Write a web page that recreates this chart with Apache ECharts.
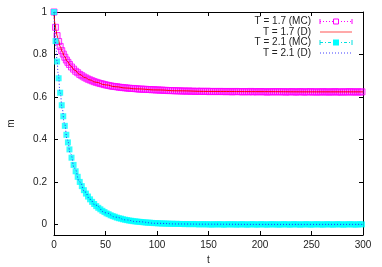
<!DOCTYPE html>
<html><head><meta charset="utf-8">
<script src="https://cdn.jsdelivr.net/npm/echarts@6/dist/echarts.min.js"></script>
<style>html,body{margin:0;padding:0;background:#fff}#c{width:382px;height:267px}</style>
</head><body><div id="c"></div>
<script>
// Monte Carlo sample times
const tMC = [0,1.5,3,4.5,6,7.5,9,10.5,12,13.5,15,17,19,21,23,25,27,29,31,33,35,37,39,41,43,45,47,49,51,53,55,57,59,
61,63,65,67,69,71,73,75,77,79,81,83,85,87,89,91,93,95,97,99,
101,103,105,107,109,111,113,115,117,119,121,123,125,127,129,131,133,135,137,139,
141,143,145,147,149,151,153,155,157,159,161,163,165,167,169,171,173,175,177,179,
181,183,185,187,189,191,193,195,197,199,201,203,205,207,209,211,213,215,217,219,
221,223,225,227,229,231,233,235,237,239,241,243,245,247,249,251,253,255,257,259,
261,263,265,267,269,271,273,275,277,279,281,283,285,287,289,291,293,295,297,299];
// T = 1.7 (MC)
const mMC17 = [1,0.928,0.889,0.861,0.838,0.818,0.802,0.787,0.774,0.763,0.753,
0.741,0.731,0.721,0.714,0.706,0.700,0.694,0.689,0.684,0.680,0.676,0.672,0.669,0.666,0.663,0.661,0.658,0.656,0.654,0.652,0.650,0.649,
0.648,0.646,0.645,0.644,0.643,0.642,0.641,0.640,0.640,0.639,0.638,0.637,0.637,0.636,0.636,0.635,0.635,0.634,0.634,0.633,
0.633,0.632,0.632,0.631,0.631,0.630,0.630,0.630,0.629,0.629,0.629,0.628,0.628,0.628,0.627,0.628,0.627,0.627,0.626,0.627,
0.626,0.627,0.626,0.626,0.627,0.625,0.626,0.626,0.625,0.626,0.626,0.625,0.626,0.625,0.625,0.626,0.624,0.625,0.626,0.625,
0.625,0.624,0.625,0.625,0.624,0.626,0.624,0.625,0.624,0.625,0.625,0.624,0.625,0.623,0.624,0.625,0.624,0.624,0.625,0.624,
0.624,0.625,0.623,0.624,0.624,0.625,0.624,0.623,0.624,0.625,0.624,0.623,0.624,0.624,0.625,0.623,0.624,0.624,0.623,0.624,
0.625,0.623,0.624,0.624,0.623,0.624,0.625,0.623,0.624,0.623,0.624,0.624,0.623,0.625,0.624,0.623,0.624,0.624,0.623,0.624];
// T = 2.1 (MC)
const mMC21 = [1,0.863,0.767,0.688,0.620,0.561,0.509,0.464,0.422,0.386,0.353,
0.314,0.280,0.250,0.224,0.200,0.180,0.161,0.145,0.131,0.118,0.106,0.096,0.086,0.078,0.071,0.064,0.058,0.052,0.048,0.043,0.039,0.036,
0.032,0.029,0.027,0.024,0.022,0.020,0.018,0.017,0.015,0.014,0.013,0.012,0.011,0.010,0.009,0.008,0.008,0.007,0.006,0.006,
0.005,0.005,0.004,0.004,0.004,0.003,0.003,0.003,0.002,0.003,0.002,0.002,0.002,0.001,0.002,0.001,0.001,0.002,0.001,0.001,
0.000,0.001,0.001,0.000,0.001,0.000,-0.001,0.001,0.000,0.000,0.001,0.000,-0.001,0.000,0.001,0.000,0.000,0.001,-0.001,0.000,
0.000,0.001,0.000,-0.001,0.000,0.000,0.001,0.000,-0.001,0.000,0.001,0.000,0.000,-0.001,0.000,0.001,0.000,0.000,0.000,-0.001,
0.000,0.001,0.000,0.000,-0.001,0.000,0.001,0.000,0.000,-0.001,0.000,0.000,0.001,0.000,-0.001,0.000,0.000,0.001,0.000,0.000,
-0.001,0.000,0.001,0.000,0.000,-0.001,0.000,0.001,0.000,0.000,-0.001,0.000,0.000,0.001,0.000,0.000,-0.001,0.000,0.001,0.000];
// Deterministic curves
const tD = [0,1,2,3,4,6,8,10,13,16,20,25,30,35,40,50,60,70,80,100,120,150,200,250,300];
const mD17 = [1.0,0.944,0.913,0.889,0.870,0.838,0.813,0.792,0.767,0.747,0.726,0.706,0.691,0.680,0.670,0.657,0.648,0.642,0.638,0.633,0.629,0.626,0.625,0.624,0.624];
const mD21 = [1.0,0.901,0.829,0.767,0.713,0.620,0.543,0.478,0.398,0.333,0.264,0.200,0.153,0.118,0.091,0.055,0.034,0.021,0.013,0.005,0.002,0.001,0,0,0];
const yTicks = [0,0.2,0.4,0.6,0.8,1];
const legendLabels = ['T = 1.7 (MC)','T = 1.7 (D)','T = 2.1 (MC)','T = 2.1 (D)'];

const pairs = (ts, ms) => ts.map((t, i) => [t, ms[i]]);
const FONT = '"Liberation Sans", Arial, sans-serif';
const chart = echarts.init(document.getElementById('c'), null, {renderer: 'canvas'});

const axLine = {show: true, onZero: false, lineStyle: {color: '#000', width: 1}};
const tick = {show: true, inside: true, length: 4, lineStyle: {color: '#000', width: 1}};

// legend drawn as graphics
const rows = [21.5, 32, 42.5, 53];
const lx1 = 320, lx2 = 352, lxm = 336, textX = 311;
const g = [];
legendLabels.forEach((s, i) => {
  g.push({type: 'text', x: textX, y: rows[i], style: {text: s, font: '10px ' + FONT, fill: '#222', align: 'right', verticalAlign: 'middle', textAlign: 'right', textVerticalAlign: 'middle'}});
});
g.push({type: 'line', shape: {x1: lx1, y1: rows[0], x2: lx2, y2: rows[0]}, style: {stroke: '#ff00ff', lineWidth: 1, lineDash: [1, 2]}});
g.push({type: 'line', shape: {x1: lx1, y1: rows[0] - 2.5, x2: lx1, y2: rows[0] + 2.5}, style: {stroke: '#ff00ff', lineWidth: 1}});
g.push({type: 'line', shape: {x1: lx2, y1: rows[0] - 2.5, x2: lx2, y2: rows[0] + 2.5}, style: {stroke: '#ff00ff', lineWidth: 1}});
g.push({type: 'rect', shape: {x: lxm - 2.5, y: rows[0] - 2.5, width: 5, height: 5}, style: {fill: '#fff', stroke: '#ff00ff', lineWidth: 1}});
g.push({type: 'line', shape: {x1: lx1, y1: rows[1], x2: lx2, y2: rows[1]}, style: {stroke: '#ff7070', lineWidth: 1.2}});
g.push({type: 'line', shape: {x1: lx1, y1: rows[2], x2: lx2, y2: rows[2]}, style: {stroke: '#00e0e0', lineWidth: 1, lineDash: [3, 2, 1, 2]}});
g.push({type: 'line', shape: {x1: lx1, y1: rows[2] - 2.5, x2: lx1, y2: rows[2] + 2.5}, style: {stroke: '#00e0e0', lineWidth: 1}});
g.push({type: 'line', shape: {x1: lx2, y1: rows[2] - 2.5, x2: lx2, y2: rows[2] + 2.5}, style: {stroke: '#00e0e0', lineWidth: 1}});
g.push({type: 'rect', shape: {x: lxm - 3, y: rows[2] - 3, width: 6, height: 6}, style: {fill: '#00ffff'}});
g.push({type: 'line', shape: {x1: lx1, y1: rows[3], x2: lx2, y2: rows[3]}, style: {stroke: '#4040ff', lineWidth: 1, lineDash: [1, 2]}});

chart.setOption({
  animation: false,
  backgroundColor: '#fff',
  textStyle: {fontFamily: FONT},
  grid: {left: 54, right: 19, top: 12, bottom: 32, containLabel: false, outerBoundsMode: 'none'},
  xAxis: [
    {type: 'value', min: 0, max: 300, interval: 50, position: 'bottom',
     axisLine: axLine, axisTick: tick, splitLine: {show: false},
     axisLabel: {fontSize: 10, color: '#222', margin: 5, fontFamily: FONT},
     name: 't', nameLocation: 'middle', nameGap: 19, nameTextStyle: {fontSize: 10, color: '#222', fontFamily: FONT}},
    {type: 'value', min: 0, max: 300, interval: 50, position: 'top',
     axisLine: axLine, axisTick: tick, splitLine: {show: false}, axisLabel: {show: false}}
  ],
  yAxis: [
    {type: 'value', min: -0.05, max: 1, position: 'left',
     axisLine: axLine, axisTick: Object.assign({}, tick, {customValues: yTicks}), splitLine: {show: false},
     axisLabel: {fontSize: 10, color: '#222', margin: 7, fontFamily: FONT, customValues: yTicks, formatter: v => String(v)},
     name: 'm', nameLocation: 'middle', nameGap: 38, nameRotate: 90, nameTextStyle: {fontSize: 10, color: '#222', fontFamily: FONT}},
    {type: 'value', min: -0.05, max: 1, position: 'right',
     axisLine: axLine, axisTick: Object.assign({}, tick, {customValues: yTicks}), splitLine: {show: false},
     axisLabel: {show: false, customValues: yTicks}}
  ],
  series: [
    {name: legendLabels[0], type: 'scatter', data: pairs(tMC, mMC17), symbol: 'rect', symbolSize: 6,
     itemStyle: {color: 'rgba(255,0,255,0.22)', borderColor: '#ff00ff', borderWidth: 1}, z: 2},
    {name: legendLabels[1], type: 'line', data: pairs(tD, mD17), showSymbol: false, smooth: true, smoothMonotone: 'x',
     lineStyle: {color: '#ff0000', width: 1}, z: 3},
    {name: legendLabels[2], type: 'scatter', data: pairs(tMC, mMC21), symbol: 'rect', symbolSize: 6,
     itemStyle: {color: '#00ffff'}, z: 4},
    {name: legendLabels[3], type: 'line', data: pairs(tD, mD21), showSymbol: false, smooth: true, smoothMonotone: 'x',
     lineStyle: {color: '#2a2aff', width: 1, type: [1, 2]}, z: 5}
  ],
  graphic: g
});
</script></body></html>
